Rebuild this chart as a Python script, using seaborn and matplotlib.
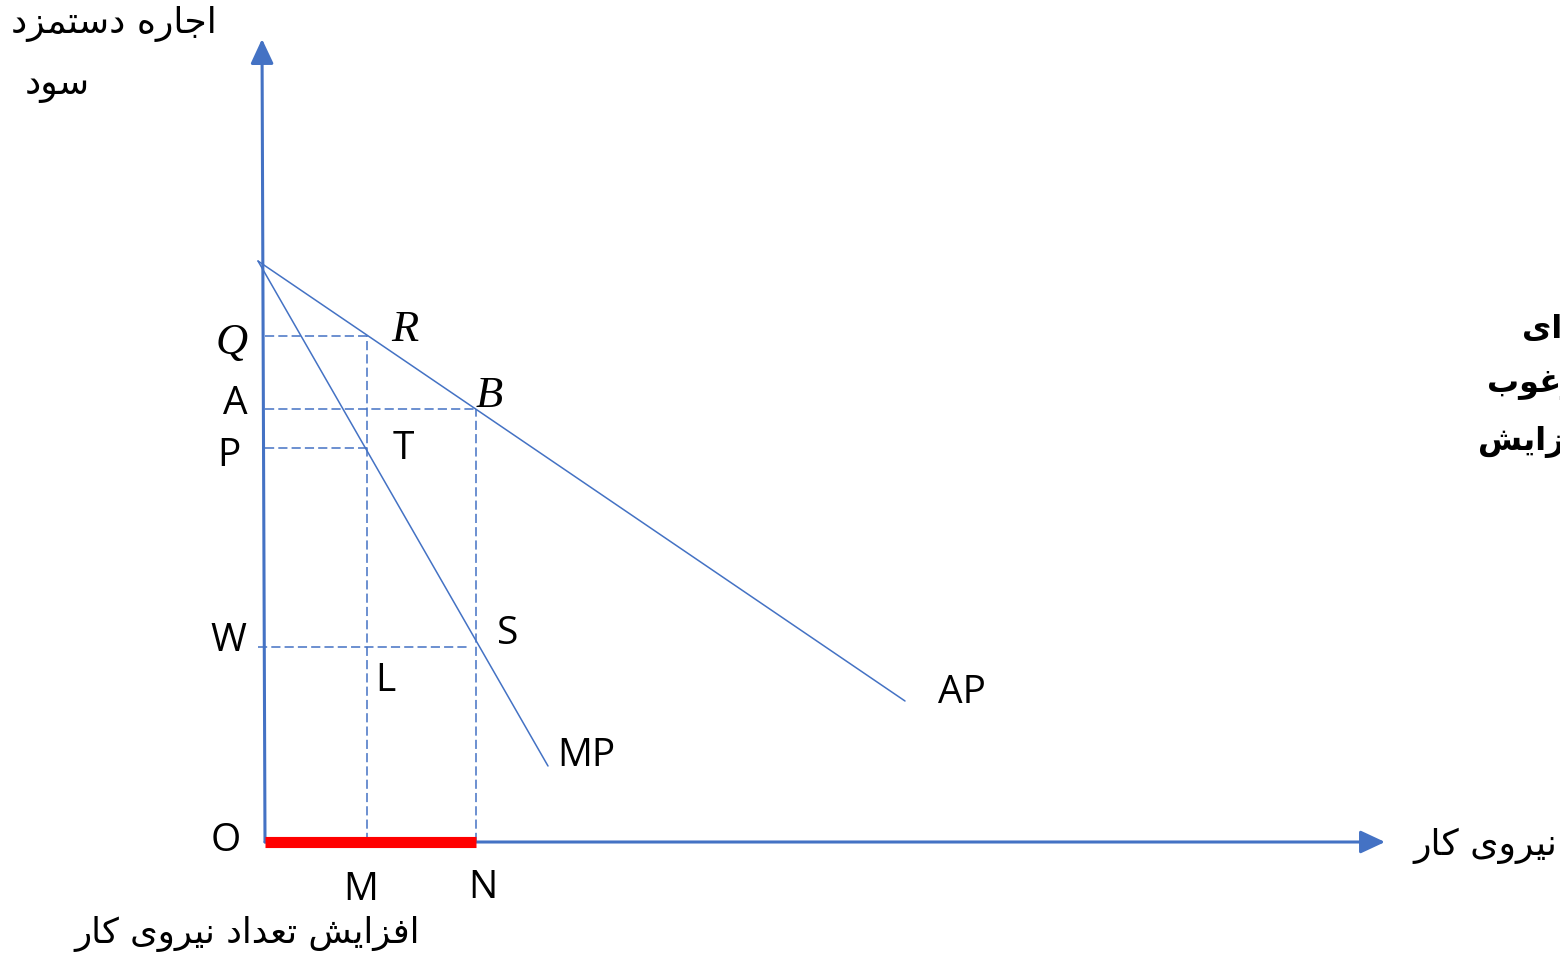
import numpy as np
import pandas as pd
import matplotlib
matplotlib.use("Agg")
import matplotlib.pyplot as plt
import seaborn as sns

# ---------------- data (units: distance from origin O) ----------------
ap_x = [-7, 640]
ap_y = [581, 141]
mp_x = [-7, 283]
mp_y = [581, 76]
level_names = ["Q", "A", "P", "W"]
level_values = [506, 433, 394, 195]
qty_names = ["M", "N"]
qty_values = [102, 211]
x_axis_end = 1120
y_axis_end = 803

txt_yaxis_1 = "اجاره دستمزد"
txt_yaxis_2 = "سود"
txt_xaxis = "نیروی کار"
txt_bottom = "افزایش تعداد نیروی کار"
txt_side = ["برای", "مرغوب", "افزایش"]

# ---------------- Persian shaping helper ----------------
FORMS = {
    "ا": (0xFE8D, 0xFE8E, None, None),
    "ب": (0xFE8F, 0xFE90, 0xFE91, 0xFE92),
    "ت": (0xFE95, 0xFE96, 0xFE97, 0xFE98),
    "ج": (0xFE9D, 0xFE9E, 0xFE9F, 0xFEA0),
    "د": (0xFEA9, 0xFEAA, None, None),
    "ر": (0xFEAD, 0xFEAE, None, None),
    "ز": (0xFEAF, 0xFEB0, None, None),
    "س": (0xFEB1, 0xFEB2, 0xFEB3, 0xFEB4),
    "ش": (0xFEB5, 0xFEB6, 0xFEB7, 0xFEB8),
    "ع": (0xFEC9, 0xFECA, 0xFECB, 0xFECC),
    "غ": (0xFECD, 0xFECE, 0xFECF, 0xFED0),
    "ف": (0xFED1, 0xFED2, 0xFED3, 0xFED4),
    "ک": (0xFB8E, 0xFB8F, 0xFB90, 0xFB91),
    "م": (0xFEE1, 0xFEE2, 0xFEE3, 0xFEE4),
    "ن": (0xFEE5, 0xFEE6, 0xFEE7, 0xFEE8),
    "ه": (0xFEE9, 0xFEEA, 0xFEEB, 0xFEEC),
    "و": (0xFEED, 0xFEEE, None, None),
    "ی": (0xFBFC, 0xFBFD, 0xFBFE, 0xFBFF),
}


def shape(s):
    out = []
    n = len(s)
    for i, c in enumerate(s):
        f = FORMS.get(c)
        if f is None:
            out.append(c)
            continue
        prev = s[i - 1] if i > 0 else None
        nxt = s[i + 1] if i < n - 1 else None
        cp = prev is not None and prev in FORMS and FORMS[prev][2] is not None
        cn = f[2] is not None and nxt is not None and nxt in FORMS
        if cp and cn:
            code = f[3]
        elif cp:
            code = f[1]
        elif cn:
            code = f[2]
        else:
            code = f[0]
        out.append(chr(code))
    return "".join(out[::-1])


# ---------------- figure ----------------
sns.set_theme(style="white")
plt.rcParams["font.family"] = ["Open Sans", "DejaVu Sans"]

W, H = 1560, 962
OX, OY = 265, 843  # origin pixel
fig = plt.figure(figsize=(W / 100, H / 100), dpi=100)
ax = fig.add_axes([0, 0, 1, 1])
ax.set_xlim(-OX, W - OX)
ax.set_ylim(-(H - OY), OY)
ax.axis("off")

blue = "#4472C4"

# curves
df = pd.DataFrame({"x": ap_x + mp_x, "y": ap_y + mp_y,
                   "curve": ["AP"] * 2 + ["MP"] * 2})
sns.lineplot(data=df, x="x", y="y", units="curve", estimator=None,
             color=blue, lw=1.1, ax=ax, sort=False)

# dashed guides
dash = (0, (6, 2.7))
Q, A, P, Wv = level_values
M, N = qty_values
ax.hlines([Q, P], 0, M, colors=blue, linestyles=[dash], lw=1.1)
ax.hlines(A, 0, N, colors=blue, linestyles=[dash], lw=1.1)
ax.hlines(Wv, -7, N - 8, colors=blue, linestyles=[dash], lw=1.1)
ax.vlines(M, 0, Q, colors=blue, linestyles=[dash], lw=1.1)
ax.vlines(N, 0, A, colors=blue, linestyles=[dash], lw=1.1)

# axes with arrows
arrow = dict(arrowstyle="-|>,head_length=0.75,head_width=0.35", lw=2.2,
             color=blue, shrinkA=0, shrinkB=0, mutation_scale=20)
ax.annotate("", xy=(-3, y_axis_end), xytext=(0, 0), arrowprops=arrow)
ax.annotate("", xy=(x_axis_end, 0), xytext=(0, 0), arrowprops=arrow)

# red segment
ax.plot([0, N], [0, 0], color="#FF0000", lw=8, solid_capstyle="butt",
        zorder=5)

# labels (pixel centre -> data)
def px(x, y):
    return x - OX, OY - y

sans_kw = dict(fontsize=28, color="black", ha="center", va="center",
               family=["Open Sans", "DejaVu Sans"])
serif_kw = dict(fontsize=32, color="black", ha="center", va="center",
                family=["Liberation Serif", "DejaVu Serif"], style="italic")

for t, (x, y) in {"A": (235, 404), "P": (229, 456), "T": (403, 449),
                  "W": (228, 641), "S": (508, 634), "L": (385, 681),
                  "AP": (962, 693), "MP": (586, 756), "O": (226, 841),
                  "M": (361, 890), "N": (483, 888)}.items():
    ax.text(*px(x, y), t, **sans_kw)
for t, (x, y) in {"Q": (232, 343), "R": (405, 330), "B": (489, 396)}.items():
    ax.text(*px(x, y), t, **serif_kw)

fa_kw = dict(fontsize=26, color="black", va="center", family=["DejaVu Sans"])
ax.text(*px(114, 24), shape(txt_yaxis_1), ha="center", **fa_kw)
ax.text(*px(57, 86), shape(txt_yaxis_2), ha="center", **fa_kw)
ax.text(*px(247, 934), shape(txt_bottom), ha="center", fontsize=25.5,
        color="black", va="center", family=["DejaVu Sans"])
ax.text(*px(1413, 846), shape(txt_xaxis), ha="left", **fa_kw)

side_kw = dict(fontsize=23, color="black", va="center", fontweight="bold",
               family=["DejaVu Sans"])
for t, (x, y) in zip(txt_side, [(1522, 330), (1487, 385), (1478, 442)]):
    ax.text(*px(x, y), shape(t), ha="left", **side_kw)

fig.savefig("out.png", dpi=100, facecolor="white")
